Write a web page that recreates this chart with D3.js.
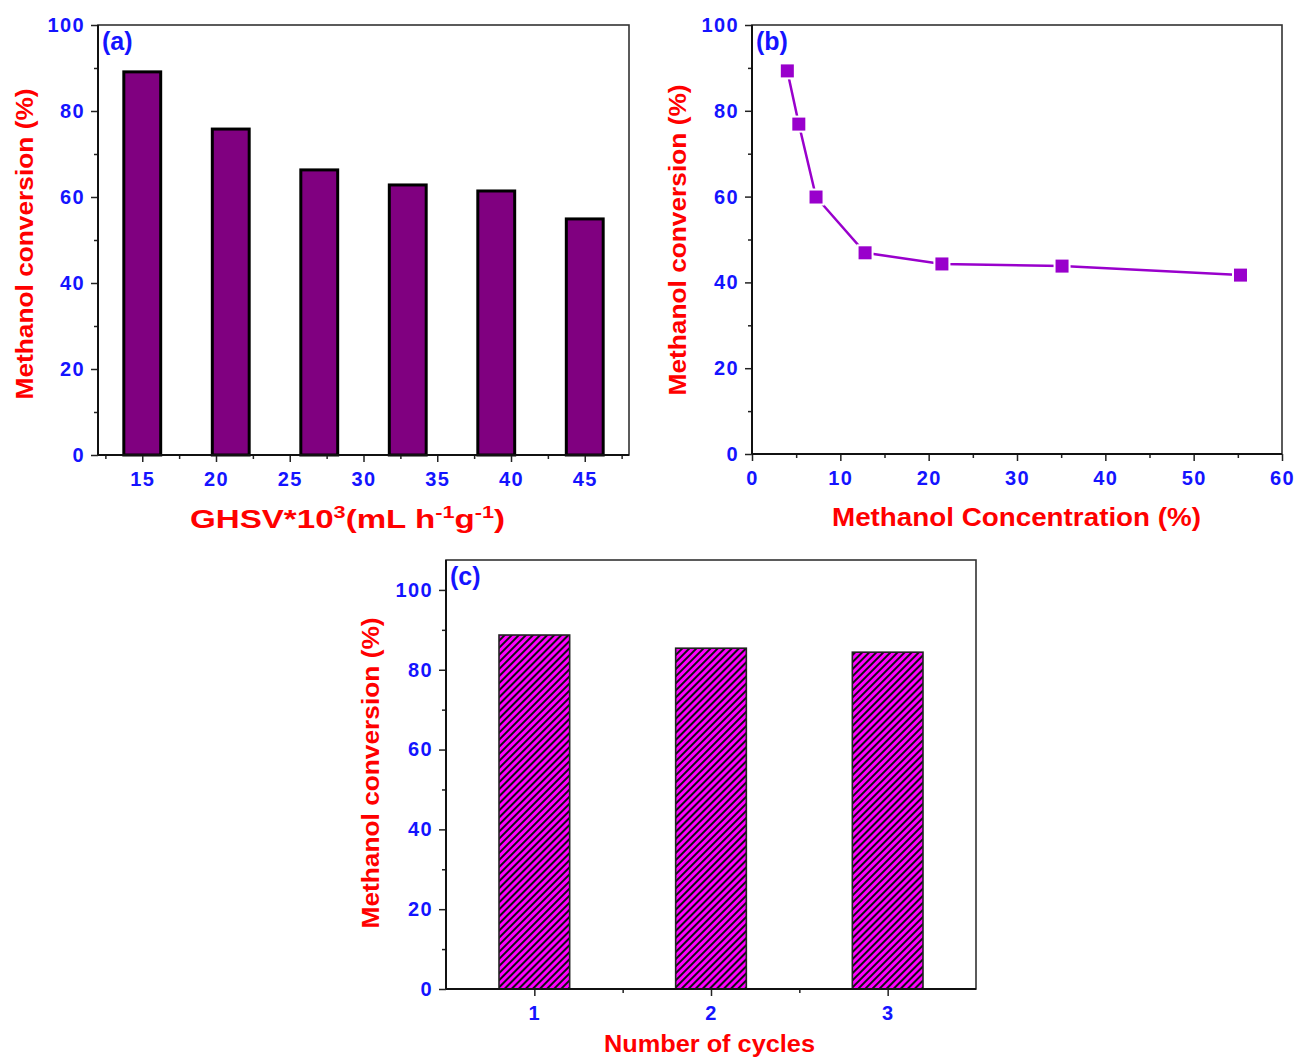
<!DOCTYPE html>
<html>
<head>
<meta charset="utf-8">
<script src="https://cdn.jsdelivr.net/npm/d3@7"></script>
<style>
  html, body { margin: 0; padding: 0; background: #fff; }
  svg { display: block; font-family: "Liberation Sans", Arial, sans-serif; font-weight: bold; }
</style>
</head>
<body>
<svg id="fig" width="1296" height="1058"></svg>
<script>
// (a) conversion vs gas hourly space velocity
const ghsvValues = [15, 21, 27, 33, 39, 45];
const ghsvConversion = [89.1, 75.8, 66.3, 62.8, 61.4, 54.9];
const ghsvTicks = [15, 20, 25, 30, 35, 40, 45];

// (b) conversion vs methanol concentration
const concValues = [4.0, 5.3, 7.25, 12.8, 21.5, 35.1, 55.3];
const concConversion = [89.3, 76.9, 59.9, 46.9, 44.3, 43.8, 41.7];
const concTicks = [0, 10, 20, 30, 40, 50, 60];

// (c) conversion over repeated cycles
const cycles = [1, 2, 3];
const cycleConversion = [88.7, 85.4, 84.4];

const yTicks = [0, 20, 40, 60, 80, 100];

const BLUE = "#1414ff";
const RED = "#ff0000";

const svg = d3.select("#fig");

const defs = svg.append("defs");
const hatch = defs.append("pattern")
  .attr("id", "hatch")
  .attr("patternUnits", "userSpaceOnUse")
  .attr("width", 5).attr("height", 5)
  .attr("patternTransform", "rotate(45)");
hatch.append("rect").attr("width", 5).attr("height", 5).attr("fill", "#ff00ff");
hatch.append("line").attr("x1", 1).attr("y1", 0).attr("x2", 1).attr("y2", 5)
  .attr("stroke", "#111").attr("stroke-width", 2);

// Draws a framed panel: axes with outward ticks, minor ticks, top/right border.
// Returns a group for the data marks that sits under the axis lines.
function panel(opt) {
  const g = svg.append("g");
  const { x, y, left, right, top, bottom } = opt;
  const marks = g.append("g");

  // minor ticks
  g.append("g").attr("transform", `translate(0,${bottom})`)
    .call(d3.axisBottom(x).tickValues(opt.xMinor).tickSize(4).tickFormat(""))
    .call(s => s.select(".domain").remove())
    .selectAll("line").attr("stroke", "#222").attr("stroke-width", 1.5);
  g.append("g").attr("transform", `translate(${left},0)`)
    .call(d3.axisLeft(y).tickValues(opt.yMinor).tickSize(4).tickFormat(""))
    .call(s => s.select(".domain").remove())
    .selectAll("line").attr("stroke", "#222").attr("stroke-width", 1.5);

  // major axes
  const xa = g.append("g").attr("transform", `translate(0,${bottom})`)
    .call(d3.axisBottom(x).tickValues(opt.xTicks).tickSize(7).tickPadding(10).tickFormat(d3.format("d")));
  const ya = g.append("g").attr("transform", `translate(${left},0)`)
    .call(d3.axisLeft(y).tickValues(yTicks).tickSize(7).tickPadding(6).tickFormat(d3.format("d")));
  [xa, ya].forEach(a => {
    a.select(".domain").remove();
    a.selectAll("line").attr("stroke", "#222").attr("stroke-width", 1.5);
    a.selectAll("text").attr("fill", BLUE).attr("font-size", 20).attr("font-weight", "bold")
      .attr("letter-spacing", 1.4)
      .attr("font-family", "Liberation Sans, Arial, sans-serif");
  });

  // frame
  g.append("rect").attr("x", left).attr("y", top)
    .attr("width", right - left).attr("height", bottom - top)
    .attr("fill", "none").attr("stroke", "#333").attr("stroke-width", 1.6);
  g.append("line").attr("x1", left).attr("x2", left).attr("y1", top).attr("y2", bottom)
    .attr("stroke", "#111").attr("stroke-width", 2);
  g.append("line").attr("x1", left).attr("x2", right).attr("y1", bottom).attr("y2", bottom)
    .attr("stroke", "#111").attr("stroke-width", 2);

  // panel label
  g.append("text").attr("x", left + 4).attr("y", top + 25)
    .attr("fill", BLUE).attr("font-size", 25).text(opt.label);

  // y title
  g.append("text")
    .attr("transform", `translate(${opt.yTitleX},${opt.yTitleY}) rotate(-90)`)
    .attr("text-anchor", "middle").attr("fill", RED).attr("font-size", 24)
    .attr("textLength", 311).attr("lengthAdjust", "spacingAndGlyphs")
    .text("Methanol conversion (%)");
  return marks;
}

// ---------- (a) ----------
{
  const left = 98, right = 629, top = 25, bottom = 455;
  const x = d3.scaleLinear().domain([12, 48]).range([left, right]);
  const y = d3.scaleLinear().domain([0, 100]).range([bottom, top]);
  const marks = panel({ x, y, left, right, top, bottom, label: "(a)",
    xTicks: ghsvTicks, xMinor: d3.range(12.5, 48, 5), yMinor: d3.range(10, 100, 20),
    yTitleX: 33, yTitleY: 244 });
  const w = x(2.5) - x(0);
  marks.selectAll("rect").data(ghsvValues).join("rect")
    .attr("x", (d) => x(d) - w / 2)
    .attr("y", (d, i) => y(ghsvConversion[i]))
    .attr("width", w)
    .attr("height", (d, i) => y(0) - y(ghsvConversion[i]))
    .attr("fill", "#800080").attr("stroke", "#000").attr("stroke-width", 3);
  const t = svg.append("text").attr("x", 190).attr("y", 528)
    .attr("fill", RED).attr("font-size", 26)
    .attr("textLength", 315).attr("lengthAdjust", "spacingAndGlyphs");
  t.append("tspan").text("GHSV*10");
  t.append("tspan").attr("dy", -10).attr("font-size", 17).text("3");
  t.append("tspan").attr("dy", 10).text("(mL h");
  t.append("tspan").attr("dy", -10).attr("font-size", 17).text("-1");
  t.append("tspan").attr("dy", 10).text("g");
  t.append("tspan").attr("dy", -10).attr("font-size", 17).text("-1");
  t.append("tspan").attr("dy", 10).text(")");
}

// ---------- (b) ----------
{
  const left = 752, right = 1282, top = 25, bottom = 454;
  const x = d3.scaleLinear().domain([0, 60]).range([left, right]);
  const y = d3.scaleLinear().domain([0, 100]).range([bottom, top]);
  const marks = panel({ x, y, left, right, top, bottom, label: "(b)",
    xTicks: concTicks, xMinor: d3.range(5, 60, 10), yMinor: d3.range(10, 100, 20),
    yTitleX: 686, yTitleY: 240 });
  const pts = concValues.map((v, i) => [x(v), y(concConversion[i])]);
  marks.append("path").attr("d", d3.line()(pts))
    .attr("fill", "none").attr("stroke", "#9900cc").attr("stroke-width", 2.5);
  marks.selectAll("rect.pt").data(pts).join("rect").attr("class", "pt")
    .attr("x", d => d[0] - 6.5).attr("y", d => d[1] - 6.5)
    .attr("width", 13).attr("height", 13)
    .attr("fill", "#9900cc").attr("stroke", "#fff").attr("stroke-width", 4)
    .attr("paint-order", "stroke");
  svg.append("text").attr("x", 832).attr("y", 526)
    .attr("fill", RED).attr("font-size", 25)
    .attr("textLength", 369).attr("lengthAdjust", "spacingAndGlyphs")
    .text("Methanol Concentration (%)");
}

// ---------- (c) ----------
{
  const left = 446, right = 976, top = 560, bottom = 989;
  const x = d3.scaleLinear().domain([0.5, 3.5]).range([left, right]);
  const y = d3.scaleLinear().domain([0, 107.5]).range([bottom, top]);
  const marks = panel({ x, y, left, right, top, bottom, label: "(c)",
    xTicks: cycles, xMinor: [1.5, 2.5], yMinor: d3.range(10, 100, 20),
    yTitleX: 379, yTitleY: 773 });
  const w = x(0.4) - x(0);
  marks.selectAll("rect").data(cycles).join("rect")
    .attr("x", d => x(d) - w / 2)
    .attr("y", (d, i) => y(cycleConversion[i]))
    .attr("width", w)
    .attr("height", (d, i) => y(0) - y(cycleConversion[i]))
    .attr("fill", "url(#hatch)").attr("stroke", "#222").attr("stroke-width", 1.6);
  svg.append("text").attr("x", 604).attr("y", 1052)
    .attr("fill", RED).attr("font-size", 23)
    .attr("textLength", 211).attr("lengthAdjust", "spacingAndGlyphs")
    .text("Number of cycles");
}
</script>
</body>
</html>
